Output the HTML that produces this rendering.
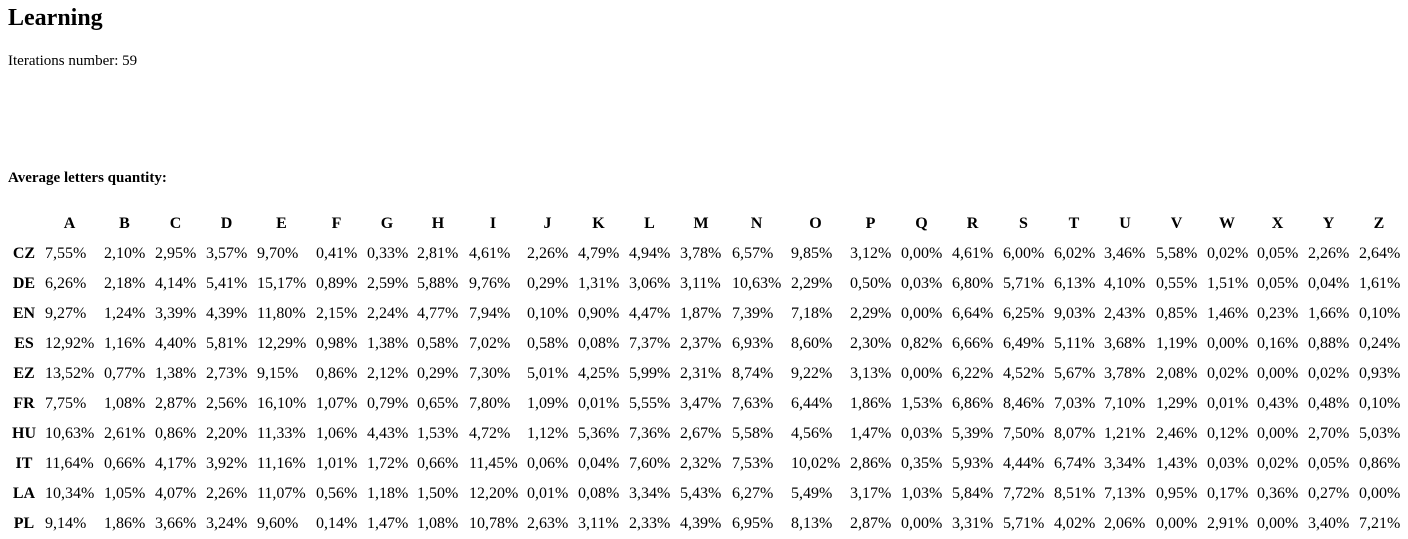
<!DOCTYPE html>
<html><head><meta charset="utf-8">
<style>
body{margin:0;background:#fff;font-family:"Liberation Serif",serif;color:#000;width:1408px;height:532px;overflow:hidden;position:relative}
h2{position:absolute;left:8px;top:5px;margin:0;font-size:24px;font-weight:bold}
#iter{position:absolute;left:8px;top:53px;font-size:15px;margin:0}
#avg{position:absolute;left:8px;top:170px;font-size:15px;font-weight:bold;margin:0}
table{position:absolute;left:8px;top:209px;border-collapse:collapse;border-spacing:0;font-size:16px;table-layout:fixed;width:1392px}
th,td{padding:6px 0;height:18px;line-height:18px;white-space:nowrap;overflow:visible}
th{text-align:center;font-weight:bold;padding-right:10px}
th.lab{padding-right:5px}
td{text-align:left}
</style></head><body>
<h2>Learning</h2>
<p id="iter">Iterations number: 59</p>
<p id="avg">Average letters quantity:</p>
<table id="t">
<colgroup><col style="width:37px"><col style="width:59px"><col style="width:51px"><col style="width:51px"><col style="width:51px"><col style="width:59px"><col style="width:51px"><col style="width:50px"><col style="width:52px"><col style="width:58px"><col style="width:51px"><col style="width:51px"><col style="width:51px"><col style="width:52px"><col style="width:59px"><col style="width:59px"><col style="width:51px"><col style="width:51px"><col style="width:51px"><col style="width:51px"><col style="width:50px"><col style="width:52px"><col style="width:51px"><col style="width:50px"><col style="width:51px"><col style="width:51px"><col style="width:50px"></colgroup>
<thead><tr id="hr"></tr></thead><tbody id="tb"></tbody></table>
<script>
const letters=["A","B","C","D","E","F","G","H","I","J","K","L","M","N","O","P","Q","R","S","T","U","V","W","X","Y","Z"];
const languages=["CZ","DE","EN","ES","EZ","FR","HU","IT","LA","PL"];
const CZ=["7,55","2,10","2,95","3,57","9,70","0,41","0,33","2,81","4,61","2,26","4,79","4,94","3,78","6,57","9,85","3,12","0,00","4,61","6,00","6,02","3,46","5,58","0,02","0,05","2,26","2,64"];
const DE=["6,26","2,18","4,14","5,41","15,17","0,89","2,59","5,88","9,76","0,29","1,31","3,06","3,11","10,63","2,29","0,50","0,03","6,80","5,71","6,13","4,10","0,55","1,51","0,05","0,04","1,61"];
const EN=["9,27","1,24","3,39","4,39","11,80","2,15","2,24","4,77","7,94","0,10","0,90","4,47","1,87","7,39","7,18","2,29","0,00","6,64","6,25","9,03","2,43","0,85","1,46","0,23","1,66","0,10"];
const ES=["12,92","1,16","4,40","5,81","12,29","0,98","1,38","0,58","7,02","0,58","0,08","7,37","2,37","6,93","8,60","2,30","0,82","6,66","6,49","5,11","3,68","1,19","0,00","0,16","0,88","0,24"];
const EZ=["13,52","0,77","1,38","2,73","9,15","0,86","2,12","0,29","7,30","5,01","4,25","5,99","2,31","8,74","9,22","3,13","0,00","6,22","4,52","5,67","3,78","2,08","0,02","0,00","0,02","0,93"];
const FR=["7,75","1,08","2,87","2,56","16,10","1,07","0,79","0,65","7,80","1,09","0,01","5,55","3,47","7,63","6,44","1,86","1,53","6,86","8,46","7,03","7,10","1,29","0,01","0,43","0,48","0,10"];
const HU=["10,63","2,61","0,86","2,20","11,33","1,06","4,43","1,53","4,72","1,12","5,36","7,36","2,67","5,58","4,56","1,47","0,03","5,39","7,50","8,07","1,21","2,46","0,12","0,00","2,70","5,03"];
const IT=["11,64","0,66","4,17","3,92","11,16","1,01","1,72","0,66","11,45","0,06","0,04","7,60","2,32","7,53","10,02","2,86","0,35","5,93","4,44","6,74","3,34","1,43","0,03","0,02","0,05","0,86"];
const LA=["10,34","1,05","4,07","2,26","11,07","0,56","1,18","1,50","12,20","0,01","0,08","3,34","5,43","6,27","5,49","3,17","1,03","5,84","7,72","8,51","7,13","0,95","0,17","0,36","0,27","0,00"];
const PL=["9,14","1,86","3,66","3,24","9,60","0,14","1,47","1,08","10,78","2,63","3,11","2,33","4,39","6,95","8,13","2,87","0,00","3,31","5,71","4,02","2,06","0,00","2,91","0,00","3,40","7,21"];
const rows=[CZ,DE,EN,ES,EZ,FR,HU,IT,LA,PL];
const hr=document.getElementById('hr');
const corner=document.createElement('th');
corner.className='lab';


hr.appendChild(corner);
letters.forEach(l=>{
  const th=document.createElement('th');
  th.textContent=l;
  
  
  hr.appendChild(th);
});
const tb=document.getElementById('tb');
rows.forEach((r,i)=>{
  const tr=document.createElement('tr');
  
  
  const th=document.createElement('th');
  th.className='lab';
  th.textContent=languages[i];
  
  
  tr.appendChild(th);
  r.forEach((v,j)=>{
    const td=document.createElement('td');
    td.textContent=v+'%';
    
    
    tr.appendChild(td);
  });
  tb.appendChild(tr);
});
</script>
</body></html>
